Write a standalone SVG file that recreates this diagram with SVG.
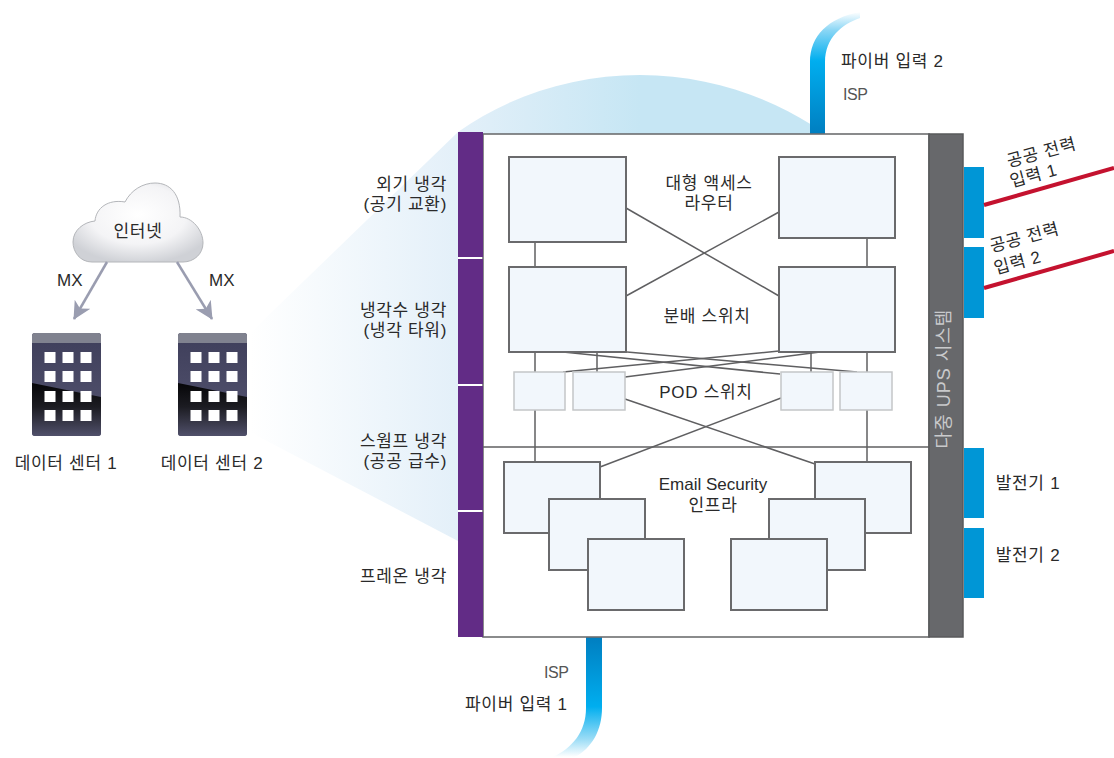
<svg xmlns="http://www.w3.org/2000/svg" width="1114" height="758" viewBox="0 0 1114 758">
<style>
text{font-family:"Liberation Sans","Noto Sans CJK KR",sans-serif;font-size:17px;letter-spacing:.7px;fill:#2a2a2a}
.m{text-anchor:middle}.e{text-anchor:end}
.en{letter-spacing:0}
.isp{font-size:16px;letter-spacing:-.4px;fill:#555}
.b{fill:#f2f7fc;stroke:#6a6a6c;stroke-width:2}
.p{fill:#f2f7fc;stroke:#c4c6c8;stroke-width:1.5}
.l{stroke:#5f5f61;stroke-width:1.5;fill:none}
.pur{fill:#622c86}.blu{fill:#0096d6}
.win{fill:#fff}
.red{stroke:#c4122f;stroke-width:4;fill:none}
</style>
<defs>
<linearGradient id="fan" x1="250" y1="0" x2="640" y2="0" gradientUnits="userSpaceOnUse"><stop offset="0" stop-color="#fff"/><stop offset=".52" stop-color="#e4f0f9"/><stop offset="1" stop-color="#c6e6f4"/></linearGradient>
<linearGradient id="f2" x1="0" y1="0" x2="0" y2="1"><stop offset="0" stop-color="#fff"/><stop offset=".15" stop-color="#8ad6f5"/><stop offset=".4" stop-color="#00aeef"/><stop offset="1" stop-color="#007ec0"/></linearGradient>
<linearGradient id="f1" x1="0" y1="1" x2="0" y2="0"><stop offset="0" stop-color="#fff"/><stop offset=".15" stop-color="#9adcf6"/><stop offset=".42" stop-color="#00aeef"/><stop offset="1" stop-color="#007ec0"/></linearGradient>
<linearGradient id="bldT" x1="0" y1="0" x2="0" y2="1"><stop offset="0" stop-color="#3e3e5a"/><stop offset="1" stop-color="#565672"/></linearGradient>
<linearGradient id="bldB" x1="0" y1="0" x2="0" y2="1"><stop offset="0" stop-color="#060608"/><stop offset=".45" stop-color="#1c1c22"/><stop offset="1" stop-color="#50506a"/></linearGradient>
<radialGradient id="cl" cx=".5" cy=".4" r=".62"><stop offset="0" stop-color="#fff"/><stop offset=".6" stop-color="#f4f4f6"/><stop offset="1" stop-color="#cfd1d6"/></radialGradient>
<marker id="arr" viewBox="0 0 18 18" refX="17" refY="9" markerWidth="18" markerHeight="18" markerUnits="userSpaceOnUse" orient="auto"><path d="M0 0L18 9L0 18L5 9Z" fill="#9a9db0"/></marker>
<g id="tower"><rect x="0" y="0" width="69" height="103" rx="3" fill="url(#bldT)"/><path d="M0 50L69 64V100Q69 103 66 103H3Q0 103 0 100Z" fill="url(#bldB)"/><path d="M0 10V3Q0 0 3 0H66Q69 0 69 3V10Z" fill="#80828f"/>
<g class="win"><rect x="12.500" y="19" width="11" height="11"/><rect x="30.500" y="19" width="11" height="11"/><rect x="48.500" y="19" width="11" height="11"/><rect x="12.500" y="38" width="11" height="11"/><rect x="30.500" y="38" width="11" height="11"/><rect x="48.500" y="38" width="11" height="11"/><rect x="12.500" y="58" width="11" height="11"/><rect x="30.500" y="58" width="11" height="11"/><rect x="48.500" y="58" width="11" height="11"/><rect x="12.500" y="77" width="11" height="11"/><rect x="30.500" y="77" width="11" height="11"/><rect x="48.500" y="77" width="11" height="11"/></g></g>
</defs>

<path id="fan-shape" d="M246 337L458 132C510 95 575 75 640 75C705 75 765 95 812 125L812 140L458 140L458 541L246 430Z" fill="url(#fan)"/>

<g id="fibers">
<path id="fiber2" d="M810 134V62C810 36 828 18 860 12V18C842 24 825 38 825 62V134Z" fill="url(#f2)"/>
<path id="fiber1" d="M586 637V708C586 732 572 748 553 757L575 757C592 748 602 730 602 708V637Z" fill="url(#f1)"/>
</g>

<g id="dc-frame"><rect x="483" y="134" width="446" height="503" fill="#fff" stroke="#6d6e70" stroke-width="1.6"/><line x1="483" y1="447" x2="929" y2="447" stroke="#5f5f61" stroke-width="1.5"/></g>

<g id="connectors">
<line class="l" x1="535" y1="242" x2="535" y2="267"/><line class="l" x1="867" y1="238" x2="867" y2="267"/>
<line class="l" x1="626" y1="208" x2="779" y2="296"/><line class="l" x1="779" y1="212" x2="626" y2="296"/>
<line class="l" x1="535" y1="352" x2="535" y2="461"/><line class="l" x1="597" y1="352" x2="597" y2="372"/>
<line class="l" x1="811" y1="352" x2="811" y2="372"/><line class="l" x1="867" y1="352" x2="867" y2="462"/>
<line class="l" x1="563" y1="352" x2="780" y2="374"/><line class="l" x1="627" y1="352" x2="857" y2="372"/>
<line class="l" x1="779" y1="351" x2="563" y2="372"/><line class="l" x1="820" y1="352" x2="625" y2="377"/>
<line class="l" x1="625" y1="399" x2="815" y2="464"/><line class="l" x1="781" y1="398" x2="600" y2="467"/>
</g>

<g id="cooling-bar"><rect class="pur" x="458" y="132" width="25" height="125"/><rect class="pur" x="458" y="259" width="25" height="125"/><rect class="pur" x="458" y="386" width="25" height="124"/><rect class="pur" x="458" y="512" width="25" height="125"/></g>
<g id="ups"><rect x="929" y="134" width="34" height="503" fill="#67686b" stroke="#58595b" stroke-width="1.5"/><text transform="translate(950 378.500) rotate(-90)" class="m" style="fill:#c9cacc;font-size:18px;letter-spacing:1px">다중 UPS 시스템</text></g>
<g id="power-blocks"><rect class="blu" x="964" y="167" width="20" height="71"/><rect class="blu" x="964" y="247" width="20" height="71"/><rect class="blu" x="964" y="448" width="20" height="70"/><rect class="blu" x="964" y="528" width="20" height="70"/></g>
<g id="power-lines"><line class="red" x1="984" y1="205" x2="1114" y2="168"/><line class="red" x1="984" y1="288" x2="1114" y2="251"/></g>

<g id="core-routers"><rect class="b" x="509" y="157" width="117" height="85"/><rect class="b" x="779" y="157" width="116" height="81"/></g>
<g id="dist-switches"><rect class="b" x="509" y="267" width="117" height="85"/><rect class="b" x="779" y="267" width="116" height="85"/></g>
<g id="pod-switches"><rect class="p" x="514" y="372" width="51" height="38"/><rect class="p" x="573" y="372" width="52" height="38"/><rect class="p" x="781" y="372" width="52" height="38"/><rect class="p" x="840" y="372" width="52" height="38"/></g>
<g id="esa-left"><rect class="b" x="504" y="462" width="96" height="71"/><rect class="b" x="549" y="499" width="96" height="71"/><rect class="b" x="588" y="539" width="96" height="71"/></g>
<g id="esa-right"><rect class="b" x="815" y="462" width="96" height="71"/><rect class="b" x="769" y="499" width="96" height="71"/><rect class="b" x="731" y="539" width="96" height="71"/></g>

<g id="inner-labels">
<text class="m" x="709" y="189">대형 액세스</text><text class="m" x="709" y="209">라우터</text>
<text class="m" x="707" y="322">분배 스위치</text>
<text class="m" x="706" y="398">POD 스위치</text>
<text class="m en" x="713" y="490">Email Security</text><text class="m" x="713" y="511">인프라</text>
</g>
<g id="cooling-labels">
<text class="e" x="447" y="190">외기 냉각</text><text class="e" x="447" y="210">(공기 교환)</text>
<text class="e" x="447" y="316">냉각수 냉각</text><text class="e" x="447" y="336">(냉각 타워)</text>
<text class="e" x="447" y="447">스웜프 냉각</text><text class="e" x="447" y="467">(공공 급수)</text>
<text class="e" x="447" y="582">프레온 냉각</text>
</g>
<g id="fiber-labels">
<text x="841" y="67">파이버 입력 2</text><text class="isp" x="843" y="100">ISP</text>
<text class="isp" x="544" y="678">ISP</text><text x="465" y="710">파이버 입력 1</text>
</g>
<g id="power-labels">
<text class="m" transform="translate(1043 158) rotate(-15)">공공 전력</text><text class="m" transform="translate(1035 181) rotate(-15)">입력 1</text>
<text class="m" transform="translate(1026 243) rotate(-15)">공공 전력</text><text class="m" transform="translate(1019 268) rotate(-15)">입력 2</text>
<text class="m" x="1028" y="489">발전기 1</text><text class="m" x="1028" y="561">발전기 2</text>
</g>

<g id="internet"><path d="M92 262C80 262 73 252 73 242C73 230 84 222 95 221C96 208 108 199 125 202C131 190 143 183 155 183C170 183 181 194 180 217C192 217 203 230 203 243C203 254 194 262 183 262Z" fill="url(#cl)" stroke="#b4b6ba" stroke-width="1"/><text class="m" x="138" y="237">인터넷</text></g>
<g id="mx-links"><line x1="107" y1="262" x2="74" y2="319" stroke="#9a9db0" stroke-width="2.500" marker-end="url(#arr)"/><line x1="177" y1="262" x2="212" y2="319" stroke="#9a9db0" stroke-width="2.500" marker-end="url(#arr)"/><text class="en" x="57" y="286">MX</text><text class="en" x="209" y="286">MX</text></g>
<g id="dc1"><use href="#tower" x="32" y="333"/><text class="m" x="66" y="469">데이터 센터 1</text></g>
<g id="dc2"><use href="#tower" x="178" y="333"/><text class="m" x="212" y="469">데이터 센터 2</text></g>
</svg>
